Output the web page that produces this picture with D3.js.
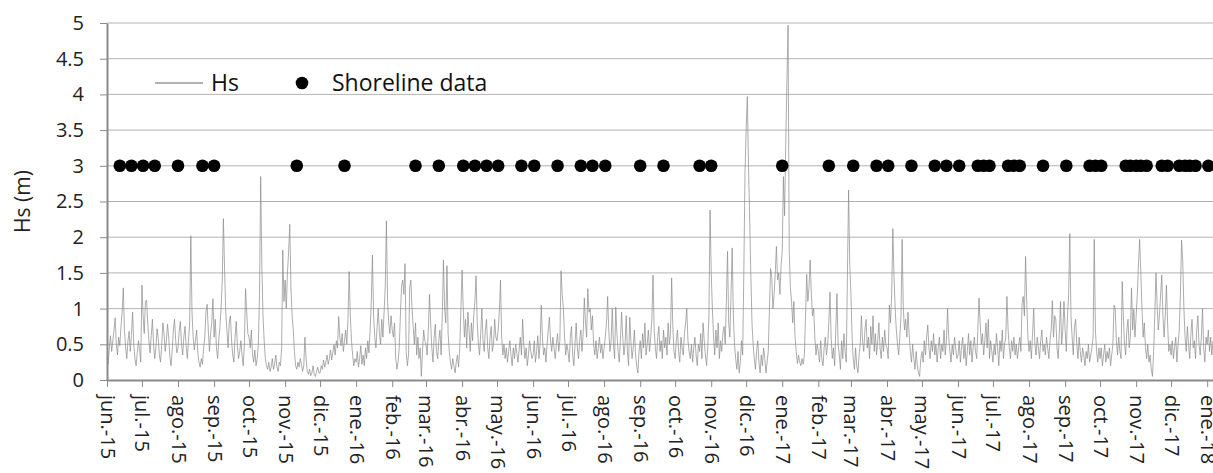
<!DOCTYPE html>
<html>
<head>
<meta charset="utf-8">
<script src="https://cdn.jsdelivr.net/npm/d3@7"></script>
<style>
  html, body { margin: 0; padding: 0; background: #ffffff; }
  svg { display: block; }
</style>
</head>
<body>
<svg id="chart" width="1213" height="473"></svg>
<script>
// ---------------- DATA ----------------
// Daily significant wave height (m), starting 2015-06-01 (one row per month)
const hsStart = "2015-06-01";
const hs2015 = [
  // jun
  0.30,0.22,0.45,0.62,0.40,0.55,0.70,0.87,0.50,0.35,0.60,0.48,0.75,0.95,1.29,0.70,0.45,0.30,0.55,0.68,0.40,0.62,0.95,0.50,0.30,0.20,0.38,0.55,0.42,0.25,
  // jul
  1.33,0.90,0.65,1.10,1.12,0.80,0.55,0.38,0.62,0.85,0.50,0.30,0.45,0.72,0.58,0.35,0.25,0.50,0.80,0.65,0.40,0.55,0.78,0.60,0.32,0.20,0.42,0.70,0.85,0.55,0.38,
  // ago
  0.45,0.68,0.82,0.50,0.35,0.60,0.75,0.48,0.30,0.55,0.80,2.02,0.95,0.60,0.42,0.55,0.70,0.38,0.25,0.18,0.30,0.22,0.45,0.60,0.95,1.06,0.70,0.40,0.65,0.80,1.14,
  // sep
  0.60,0.85,0.45,0.30,0.55,0.75,1.00,1.40,2.26,1.55,0.95,0.70,0.45,0.80,0.90,0.55,0.35,0.25,0.60,0.82,0.48,0.30,0.40,0.55,0.35,0.20,0.50,1.28,0.95,0.65,
  // oct
  0.60,0.45,0.70,0.35,0.25,0.42,0.20,0.30,0.50,1.20,2.85,1.60,0.90,0.55,0.30,0.20,0.15,0.25,0.12,0.18,0.30,0.15,0.22,0.35,0.18,0.12,0.25,0.20,0.45,1.82,1.10,
  // nov
  1.40,1.00,1.50,1.80,2.18,1.30,0.90,0.70,0.40,0.20,0.15,0.25,0.18,0.30,0.22,0.12,0.20,0.60,0.30,0.12,0.08,0.15,0.06,0.10,0.20,0.08,0.05,0.12,0.18,0.10,
  // dic
  0.10,0.20,0.15,0.28,0.18,0.25,0.35,0.22,0.30,0.42,0.28,0.38,0.50,0.35,0.55,0.45,0.89,0.60,0.48,0.65,0.40,0.55,0.70,0.50,0.85,1.52,0.90,0.55,0.35,0.20,0.30
];
const hs2016 = [
  // ene
  0.25,0.40,0.18,0.30,0.48,0.22,0.35,0.20,0.45,0.30,0.55,0.38,0.70,1.10,1.75,0.90,0.60,0.45,0.75,1.00,0.65,0.50,0.85,0.60,0.95,1.30,2.23,1.10,0.80,0.65,0.90,
  // feb
  0.70,0.60,0.80,0.30,0.15,0.25,0.45,0.90,1.31,1.40,1.20,1.63,0.40,0.20,0.35,1.30,1.40,1.00,0.75,0.50,0.80,0.35,0.60,0.30,0.45,0.05,0.40,0.70,0.55,
  // mar
  0.50,0.35,0.70,1.20,0.80,0.45,0.25,0.60,0.78,0.40,0.30,0.55,0.70,0.35,0.90,1.68,1.00,0.80,1.60,0.65,0.40,0.25,0.15,0.30,0.20,0.10,0.25,0.35,0.18,0.45,1.00,
  // abr
  1.54,1.00,0.60,0.85,0.45,0.95,0.70,0.40,0.80,0.55,0.90,1.10,1.46,0.80,0.50,0.35,0.65,1.00,0.55,0.40,0.70,0.85,0.45,0.30,0.60,0.75,0.40,0.50,0.85,0.60,
  // may
  0.55,0.70,0.95,1.40,0.60,0.35,0.50,0.30,0.45,0.25,0.40,0.55,0.35,0.20,0.45,0.30,0.50,0.38,0.25,0.42,0.60,0.35,0.85,0.50,0.30,0.45,0.20,0.35,0.55,0.40,0.30,
  // jun
  0.35,0.55,0.25,0.40,0.62,0.30,0.50,1.05,0.60,0.35,0.45,0.25,0.50,0.70,0.88,0.55,0.40,0.60,0.45,0.30,0.50,0.65,0.40,0.55,1.53,1.20,1.00,0.60,0.35,0.50,
  // jul
  0.40,0.25,0.60,0.75,0.35,0.20,0.50,0.80,0.45,0.30,0.55,0.70,0.40,0.65,1.15,0.80,0.60,1.28,0.95,1.00,0.70,0.90,0.50,0.35,0.55,0.30,0.45,0.60,0.38,0.50,0.30,
  // ago
  0.45,0.60,0.80,1.17,0.70,0.40,0.55,1.00,0.50,0.30,1.02,0.65,0.40,0.25,0.55,0.95,0.60,0.35,0.50,0.90,0.40,0.20,0.88,0.55,0.30,0.45,0.70,0.35,0.20,0.10,0.40,
  // sep
  0.55,0.30,0.65,0.45,0.80,0.35,0.50,0.70,0.40,0.60,0.85,1.47,0.70,0.45,0.30,0.60,0.75,0.40,0.55,0.30,0.70,0.45,0.60,0.35,0.80,0.50,0.65,1.43,0.75,0.40,
  // oct
  0.30,0.55,0.70,0.40,0.25,0.60,0.45,0.35,0.65,0.80,1.00,0.55,0.40,0.30,0.50,0.25,0.45,0.60,0.35,0.20,0.50,0.40,0.65,0.30,0.80,0.55,0.35,0.20,0.45,0.90,2.38,
  // nov
  1.50,1.00,0.60,0.35,0.70,0.45,0.80,0.30,0.55,0.40,0.65,0.75,0.50,1.10,1.80,0.80,0.60,1.20,1.85,0.90,0.50,0.30,0.15,0.40,0.10,0.25,0.55,0.35,1.50,2.90,
  // dic
  3.50,3.97,3.00,2.30,1.50,0.80,0.50,0.30,0.15,0.40,0.55,0.25,0.10,0.35,0.20,0.45,0.30,0.10,0.25,0.40,1.00,1.56,1.44,1.00,1.20,1.50,1.87,1.40,1.50,1.20,1.60
];
const hs2017 = [
  // ene
  1.80,2.85,2.30,3.30,4.18,4.97,1.80,1.30,1.10,0.80,1.10,0.60,0.40,0.23,0.35,0.25,0.20,0.30,0.22,0.35,0.90,1.48,1.10,1.30,1.68,1.20,0.90,1.00,0.60,0.35,0.50,
  // feb
  0.40,0.25,0.55,0.30,0.20,0.45,0.60,0.35,0.50,0.80,1.23,0.60,0.30,0.45,0.20,0.70,1.21,0.50,0.35,0.15,0.55,0.30,0.65,0.40,0.25,1.50,2.66,1.60,
  // mar
  1.20,0.60,0.30,0.15,0.45,0.20,0.10,0.35,0.50,0.90,0.55,0.40,0.70,0.85,0.45,0.60,0.30,0.75,0.50,0.90,0.40,0.65,0.35,0.55,0.80,0.45,0.30,0.60,0.40,0.70,0.50,
  // abr
  0.45,0.30,1.05,0.80,1.20,2.12,1.45,1.00,0.70,0.50,0.35,0.60,0.90,1.97,1.00,0.70,0.85,0.60,0.95,0.65,0.40,0.25,0.50,0.30,0.15,0.40,0.20,0.10,0.05,0.30,
  // may
  0.40,0.25,0.55,0.35,0.60,0.77,0.45,0.30,0.55,0.40,0.65,0.35,0.50,0.25,0.45,0.60,0.30,0.50,0.40,0.70,0.35,0.55,1.00,0.60,0.40,0.25,0.50,0.35,0.60,0.45,0.30,
  // jun
  0.35,0.55,0.25,0.45,0.60,0.30,0.50,0.20,0.40,0.65,0.35,0.55,0.25,0.45,0.60,0.40,0.30,0.70,1.15,0.80,0.50,0.65,0.35,0.55,0.80,0.45,0.85,0.30,0.55,0.40,
  // jul
  0.25,0.50,0.35,0.65,0.45,0.20,0.55,0.40,0.70,0.30,0.50,0.60,1.17,0.70,0.45,0.30,0.55,0.40,0.60,0.35,0.50,0.30,0.45,0.60,0.40,1.07,1.17,0.90,1.73,1.10,0.60,
  // ago
  0.40,0.55,0.30,0.65,1.00,0.50,0.35,0.60,0.45,0.30,0.55,0.70,0.40,0.50,0.35,0.60,0.45,0.30,0.55,0.70,1.11,0.60,0.90,0.85,0.45,0.30,0.65,1.10,0.50,0.70,1.10,
  // sep
  0.70,0.40,0.90,1.20,2.05,0.90,0.60,0.35,0.75,0.85,0.50,0.30,0.60,0.40,0.25,0.45,0.35,0.20,0.40,0.30,0.50,0.25,0.35,0.45,0.60,1.97,0.70,0.40,0.25,0.45,
  // oct
  0.30,0.45,0.20,0.35,0.50,0.25,0.40,0.30,0.45,0.20,0.35,0.50,1.05,1.00,0.55,0.35,0.60,0.40,0.30,1.38,0.90,0.50,0.35,0.70,0.85,0.45,0.60,1.29,0.70,0.99,0.60,
  // nov
  0.90,1.20,1.63,1.97,1.50,1.00,0.60,0.80,0.45,0.30,0.50,0.25,0.35,0.15,0.05,0.40,0.90,1.50,1.05,0.70,0.90,1.20,1.47,0.90,0.60,0.90,1.33,0.80,0.40,0.50,
  // dic
  0.35,0.55,0.30,0.45,0.60,0.25,0.50,0.70,1.20,1.96,1.67,1.00,0.60,0.40,0.75,0.50,0.30,0.65,0.85,0.45,0.55,0.30,0.70,0.90,0.50,0.35,0.60,1.00,0.45,0.25,0.60
];
const hs2018 = [0.50,0.70,0.40,0.60,0.35,0.55];

// Dates of shoreline surveys (plotted at Hs = 3 m)
const shorelineDates = [
  "2015-06-12","2015-06-22","2015-07-02","2015-07-12","2015-08-01","2015-08-22","2015-09-01",
  "2015-11-11","2015-12-22",
  "2016-02-21","2016-03-12","2016-04-02","2016-04-12","2016-04-22","2016-05-02","2016-05-22",
  "2016-06-02","2016-06-22","2016-07-12","2016-07-22","2016-08-02","2016-09-01","2016-09-21",
  "2016-10-22","2016-11-01",
  "2017-01-01","2017-02-10","2017-03-03","2017-03-23","2017-04-02","2017-04-22","2017-05-12",
  "2017-05-22","2017-06-02","2017-06-18","2017-06-23","2017-06-28","2017-07-14","2017-07-19",
  "2017-07-24","2017-08-13","2017-09-02","2017-09-22","2017-09-27","2017-10-02","2017-10-23",
  "2017-10-27","2017-11-01","2017-11-05","2017-11-10","2017-11-23","2017-11-28","2017-12-08",
  "2017-12-13","2017-12-17","2017-12-22","2018-01-02"
];
const shorelineValue = 3;

// Axis ticks / labels
const yTicks = [0, 0.5, 1, 1.5, 2, 2.5, 3, 3.5, 4, 4.5, 5];
const monthAbbr = ["ene.","feb.","mar.","abr.","may.","jun.","jul.","ago.","sep.","oct.","nov.","dic."];
const xTickStart = "2015-06-01";
const xTickEnd = "2018-01-01";
const xDomain = ["2015-06-01", "2018-01-06"];
const yLabel = "Hs (m)";
const legendLabels = ["Hs", "Shoreline data"];

// ---------------- DRAW ----------------
(function () {
const parse = d3.utcParse("%Y-%m-%d");
const svg = d3.select("#chart");
const FONT = "'Open Sans', 'Noto Sans', sans-serif";

const mLeft = 107, mRight = 1213, mTop = 23, mBottom = 380;

const x = d3.scaleUtc().domain(xDomain.map(parse)).range([mLeft, mRight]);
const y = d3.scaleLinear().domain([0, 5]).range([mBottom, mTop]);

svg.append("rect").attr("width", 1213).attr("height", 473).attr("fill", "#fff");

// gridlines
svg.append("g").selectAll("line")
  .data(yTicks.filter(v => v > 0))
  .join("line")
  .attr("x1", mLeft).attr("x2", mRight)
  .attr("y1", d => y(d)).attr("y2", d => y(d))
  .attr("stroke", "#b3b3b3").attr("stroke-width", 1);

// Hs line
const allHs = [].concat(hs2015, hs2016, hs2017, hs2018);
const start = parse(hsStart);
const series = allHs.map((v, i) => ({ date: d3.utcDay.offset(start, i), v }));
const line = d3.line().x(d => x(d.date)).y(d => y(d.v));
svg.append("path")
  .datum(series)
  .attr("d", line)
  .attr("fill", "none")
  .attr("stroke", "#8a8a8a")
  .attr("stroke-width", 0.7)
  .attr("stroke-linejoin", "miter");

// y axis
const yAxis = svg.append("g")
  .attr("transform", `translate(${mLeft},0)`)
  .call(d3.axisLeft(y).tickValues(yTicks).tickSize(7).tickSizeOuter(0).tickPadding(16)
    .tickFormat(d => String(d)));
yAxis.select(".domain").attr("stroke", "#8a8a8a").attr("stroke-width", 2);
yAxis.selectAll(".tick line").attr("stroke", "#8a8a8a").attr("stroke-width", 1);
yAxis.selectAll(".tick text")
  .attr("font-family", FONT).attr("font-size", 20).attr("fill", "#222");

// x axis
const monthTicks = d3.utcMonth.range(parse(xTickStart), d3.utcDay.offset(parse(xTickEnd), 1));
const fmtMonth = d => monthAbbr[d.getUTCMonth()] + "-" + String(d.getUTCFullYear()).slice(2);
const xAxis = svg.append("g")
  .attr("transform", `translate(0,${mBottom})`)
  .call(d3.axisBottom(x).tickValues(monthTicks).tickSize(7).tickSizeOuter(0).tickFormat(fmtMonth));
xAxis.select(".domain").attr("stroke", "#8a8a8a").attr("stroke-width", 2);
xAxis.selectAll(".tick line").attr("stroke", "#8a8a8a").attr("stroke-width", 1);
xAxis.selectAll(".tick text")
  .attr("transform", "rotate(90)")
  .attr("x", 15).attr("y", 0).attr("dy", "0.35em")
  .attr("text-anchor", "start")
  .attr("font-family", FONT).attr("font-size", 20).attr("fill", "#222");

// shoreline dots
svg.append("g").selectAll("circle")
  .data(shorelineDates)
  .join("circle")
  .attr("cx", d => x(parse(d)))
  .attr("cy", y(shorelineValue))
  .attr("r", 6.3)
  .attr("fill", "#000");

// y label
svg.append("text")
  .attr("transform", `translate(30,${(mTop + mBottom) / 2}) rotate(-90)`)
  .attr("text-anchor", "middle")
  .attr("font-family", FONT).attr("font-size", 21).attr("fill", "#222")
  .text(yLabel);

// legend
const lg = svg.append("g");
lg.append("line").attr("x1", 155).attr("x2", 203).attr("y1", 83).attr("y2", 83)
  .attr("stroke", "#666").attr("stroke-width", 1);
lg.append("text").attr("x", 211).attr("y", 91)
  .attr("font-family", FONT).attr("font-size", 23).attr("fill", "#111")
  .text(legendLabels[0]);
lg.append("circle").attr("cx", 302).attr("cy", 83).attr("r", 6.3).attr("fill", "#000");
lg.append("text").attr("x", 332).attr("y", 91)
  .attr("font-family", FONT).attr("font-size", 23).attr("fill", "#111")
  .text(legendLabels[1]);
})();
</script>
</body>
</html>
